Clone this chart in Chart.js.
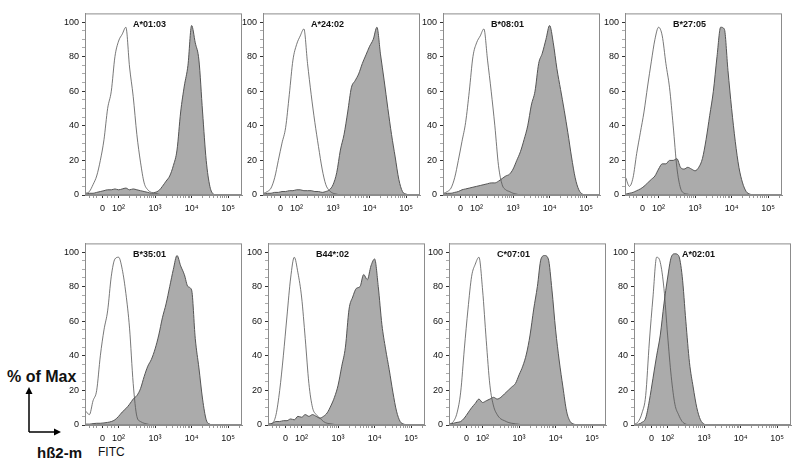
<!DOCTYPE html>
<html lang="en">
<head>
  <meta charset="UTF-8" />
  <title>hB2-m FITC histograms</title>
  <script src="https://cdn.jsdelivr.net/npm/chart.js@4.4.0"></script>
  <style>
    body {
      margin: 0;
      background: #fff;
      width: 799px;
      height: 465px;
      overflow: hidden;
      position: relative;
      font-family: 'Liberation Sans', Arial, sans-serif;
      color: #111;
    }
    canvas { position: absolute; }
    .note { position: absolute; white-space: nowrap; line-height: 1; }
  </style>
</head>
<body>
  <div class="note" style="left:7px; top:369px; font-weight:bold; font-size:16px;">% of Max</div>
  <div class="note" style="left:37px; top:445px; font-weight:bold; font-size:15px;">hß2-m</div>
  <div class="note" style="left:98px; top:446px; font-size:12px;">FITC</div>
  <svg style="position:absolute; left:0; top:380px;" width="70" height="60">
    <line x1="29" y1="52" x2="29" y2="13" stroke="#000" stroke-width="1.5" />
    <polygon points="29,7 25.5,14 32.5,14" fill="#000" />
    <line x1="29" y1="52" x2="55" y2="52" stroke="#000" stroke-width="1.5" />
    <polygon points="61,52 54,48.5 54,55.5" fill="#000" />
  </svg>

  <script>
    // FITC position in decades (2 = 10^2, 3 = 10^3 ...)
    const fitcPos = [1.1, 1.2, 1.3, 1.4, 1.5, 1.6, 1.7, 1.8, 1.9, 2.0,
                     2.1, 2.2, 2.3, 2.4, 2.5, 2.6, 2.7, 2.8, 2.9, 3.0,
                     3.1, 3.2, 3.3, 3.4, 3.5, 3.6, 3.7, 3.8, 3.9, 4.0,
                     4.1, 4.2, 4.3, 4.4, 4.5, 4.6, 4.7, 4.8, 4.9, 5.0,
                     5.1, 5.2, 5.3, 5.4];
    const xTickPos = [1.56, 2, 3, 4, 5];
    const xTickText = ['0', '10²', '10³', '10⁴', '10⁵'];
    const yTickPos = [0, 20, 40, 60, 80, 100];
    const alleles = ['A*01:03', 'A*24:02', 'B*08:01', 'B*27:05', 'B*35:01', 'B44*:02', 'C*07:01', 'A*02:01'];

    // % of max, open histogram (control) and filled histogram (stained)
    const ctrlA0103 = [1, 2, 6, 11, 20, 32, 50, 60, 80, 89, 93, 97, 74, 57, 35, 19, 7, 3, 1.5, 1, 0.5, 0, 0, 0, 0, 0, 0, 0, 0, 0, 0, 0, 0, 0, 0, 0, 0, 0, 0, 0, 0, 0, 0, 0];
    const stainA0103 = [0.5, 1, 1, 1.5, 2, 2.5, 3, 3, 3.5, 3, 3.5, 4, 3, 3.5, 3, 2.5, 2, 1.5, 1, 1.5, 2.5, 5, 8, 11, 17, 26, 48, 63, 75, 98, 88, 78, 48, 20, 5, 0.5, 0, 0, 0, 0, 0, 0, 0, 0];
    const ctrlA2402 = [1, 2, 4, 10, 20, 30, 39, 58, 78, 87, 92, 96, 76, 58, 42, 28, 15, 6, 2.5, 1, 0.5, 0, 0, 0, 0, 0, 0, 0, 0, 0, 0, 0, 0, 0, 0, 0, 0, 0, 0, 0, 0, 0, 0, 0];
    const stainA2402 = [0.5, 1, 1, 1.5, 1.5, 2, 2, 2.5, 2.5, 3, 3, 2.5, 2.5, 2.5, 2, 2, 1.5, 2, 3, 6, 13, 26, 35, 48, 62, 66, 70, 76, 81, 86, 90, 97, 81, 66, 50, 35, 22, 9, 2, 0.5, 0, 0, 0, 0];
    const ctrlB0801 = [1, 2, 4, 10, 20, 31, 42, 60, 80, 88, 92, 96, 78, 60, 40, 17, 6, 3, 2, 1, 0.5, 0, 0, 0, 0, 0, 0, 0, 0, 0, 0, 0, 0, 0, 0, 0, 0, 0, 0, 0, 0, 0, 0, 0];
    const stainB0801 = [0.5, 1, 1, 1.5, 2, 3, 3.5, 4, 4.5, 5, 5.5, 6, 6.5, 7, 7, 8, 9.5, 11, 12, 15, 20, 25, 32, 40, 52, 60, 76, 82, 90, 98, 88, 73, 61, 49, 36, 22, 10, 3, 0.5, 0, 0, 0, 0, 0];
    const ctrlB2705 = [10, 5, 10, 24, 36, 48, 63, 77, 90, 97, 92, 76, 62, 40, 16, 4, 1, 0.5, 0, 0, 0, 0, 0, 0, 0, 0, 0, 0, 0, 0, 0, 0, 0, 0, 0, 0, 0, 0, 0, 0, 0, 0, 0, 0];
    const stainB2705 = [0.5, 1, 1.5, 2.5, 3.5, 5, 7, 9, 11, 15, 18, 18, 20, 20, 21, 16, 15, 16, 15, 14, 16, 21, 32, 46, 60, 80, 97, 96, 72, 50, 31, 16, 7, 2, 0.5, 0, 0, 0, 0, 0, 0, 0, 0, 0];
    const ctrlB3501 = [8, 6, 14, 20, 40, 55, 66, 86, 96, 97, 90, 76, 56, 24, 5, 2, 1, 0.5, 0, 0, 0, 0, 0, 0, 0, 0, 0, 0, 0, 0, 0, 0, 0, 0, 0, 0, 0, 0, 0, 0, 0, 0, 0, 0];
    const stainB3501 = [0.5, 0.5, 0.8, 1, 1, 1.2, 1.5, 2, 3, 5, 7.5, 9.5, 12, 15, 17, 21, 28, 34, 38, 44, 52, 62, 70, 80, 90, 98, 92, 87, 80, 78, 50, 33, 15, 3, 0.5, 0, 0, 0, 0, 0, 0, 0, 0, 0];
    const ctrlB4402 = [0.5, 1, 6, 20, 40, 63, 85, 97, 88, 74, 50, 24, 10, 6, 4, 2, 1, 0.7, 0.3, 0, 0, 0, 0, 0, 0, 0, 0, 0, 0, 0, 0, 0, 0, 0, 0, 0, 0, 0, 0, 0, 0, 0, 0, 0];
    const stainB4402 = [0.5, 1, 2, 2, 2.5, 2.5, 3.5, 3, 5, 4.5, 6, 5, 6, 5, 4, 5, 7, 11, 16, 23, 34, 45, 67, 74, 79, 80, 87, 84, 92, 96, 80, 58, 44, 32, 19, 8, 2, 0.5, 0, 0, 0, 0, 0, 0];
    const ctrlC0701 = [0.5, 2, 7, 19, 44, 67, 86, 93, 97, 78, 49, 23, 11, 6, 3.5, 2.5, 1.5, 1, 0.7, 0.4, 0, 0, 0, 0, 0, 0, 0, 0, 0, 0, 0, 0, 0, 0, 0, 0, 0, 0, 0, 0, 0, 0, 0, 0];
    const stainC0701 = [0.5, 1, 1.5, 2, 4, 7, 10, 12.5, 15, 13, 14, 15, 16, 15, 16, 18, 20, 22, 24, 29, 34, 41, 52, 67, 80, 96, 98, 96, 78, 55, 37, 22, 8, 2, 0.5, 0, 0, 0, 0, 0, 0, 0, 0, 0];
    const ctrlA0201 = [0.5, 2, 7, 17, 48, 74, 97, 94, 79, 52, 28, 12, 6, 2, 0.5, 0, 0, 0, 0, 0, 0, 0, 0, 0, 0, 0, 0, 0, 0, 0, 0, 0, 0, 0, 0, 0, 0, 0, 0, 0, 0, 0, 0, 0];
    const stainA0201 = [0.3, 0.5, 1.5, 4, 14, 27, 40, 52, 70, 85, 97, 99, 98, 86, 60, 36, 22, 10, 3, 0.5, 0, 0, 0, 0, 0, 0, 0, 0, 0, 0, 0, 0, 0, 0, 0, 0, 0, 0, 0, 0, 0, 0, 0, 0];

    const ctrlSets = [ctrlA0103, ctrlA2402, ctrlB0801, ctrlB2705, ctrlB3501, ctrlB4402, ctrlC0701, ctrlA0201];
    const stainSets = [stainA0103, stainA2402, stainB0801, stainB2705, stainB3501, stainB4402, stainC0701, stainA0201];

    // plot box (left, top) of each panel on the page
    const boxAt = [[85, 7], [263, 7], [443, 7], [625, 7], [85, 237], [268, 237], [449, 237], [634, 237]];

    const tickFont = { family: "'Liberation Sans', Arial, sans-serif", size: 9 };

    // minor ticks: a few linear ones round zero, log ones per decade
    const xMinor = [1.2, 1.3, 1.4, 1.7, 1.8, 1.9];
    for (let d = 2; d <= 5; d++) {
      for (let k = 2; k <= 9; k++) {
        const v = d + Math.log10(k);
        if (v < 5.38) xMinor.push(v);
      }
    }
    const yMinor = [];
    for (let v = 5; v < 105; v += 5) if (v % 20) yMinor.push(v);

    const panelFrame = {
      id: 'panelFrame',
      afterDatasetsDraw(chart, args, opts) {
        const { ctx, chartArea: a } = chart;
        ctx.save();
        ctx.strokeStyle = '#8c8c8c';
        ctx.lineWidth = 1;
        ctx.strokeRect(a.left + 0.5, a.top + 0.5, a.right - a.left - 1, a.bottom - a.top - 1);
        ctx.font = "bold 9px 'Liberation Sans', Arial, sans-serif";
        ctx.fillStyle = '#111';
        ctx.textBaseline = 'middle';
        ctx.fillText(opts.label, a.left + 48, a.top + 11);
        ctx.restore();
      }
    };

    function isMajor(list, v) {
      return list.some(t => Math.abs(t - v) < 1e-6);
    }

    alleles.forEach((name, i) => {
      const [bx, by] = boxAt[i];
      const canvas = document.createElement('canvas');
      canvas.width = 191;
      canvas.height = 212;
      canvas.style.left = (bx - 30) + 'px';
      canvas.style.top = (by - 2) + 'px';
      document.body.appendChild(canvas);

      new Chart(canvas.getContext('2d'), {
        type: 'line',
        data: {
          datasets: [
            {
              data: fitcPos.map((x, j) => ({ x, y: ctrlSets[i][j] })),
              borderColor: '#555',
              borderWidth: 0.8,
              fill: false,
              pointRadius: 0,
              cubicInterpolationMode: 'monotone'
            },
            {
              data: fitcPos.map((x, j) => ({ x, y: stainSets[i][j] })),
              borderColor: '#555',
              borderWidth: 1,
              backgroundColor: '#ababab',
              fill: 'origin',
              pointRadius: 0,
              cubicInterpolationMode: 'monotone'
            }
          ]
        },
        options: {
          responsive: false,
          animation: false,
          layout: { padding: { top: 2, right: 4, left: 0, bottom: 0 } },
          plugins: {
            legend: { display: false },
            tooltip: { enabled: false },
            panelFrame: { label: name }
          },
          scales: {
            x: {
              type: 'linear',
              min: 1.08,
              max: 5.38,
              afterFit: s => { s.height = 22; },
              afterBuildTicks: s => {
                s.ticks = xTickPos.concat(xMinor).sort((a, b) => a - b).map(v => ({ value: v }));
              },
              ticks: {
                autoSkip: false,
                maxRotation: 0,
                padding: 5,
                font: tickFont,
                color: '#111',
                callback: v => {
                  const k = xTickPos.findIndex(t => Math.abs(t - v) < 1e-6);
                  return k >= 0 ? xTickText[k] : '';
                }
              },
              grid: {
                drawOnChartArea: false,
                tickLength: 3,
                tickColor: c => (c.tick && isMajor(xTickPos, c.tick.value)) ? '#333' : '#999'
              },
              border: { color: '#8c8c8c' }
            },
            y: {
              min: 0,
              max: 105,
              afterFit: s => { s.width = 30; },
              afterBuildTicks: s => {
                s.ticks = yTickPos.concat(yMinor).sort((a, b) => a - b).map(v => ({ value: v }));
              },
              ticks: {
                autoSkip: false,
                padding: 3,
                font: tickFont,
                color: '#111',
                callback: v => isMajor(yTickPos, v) ? String(v) : ''
              },
              grid: {
                drawOnChartArea: false,
                tickLength: 3,
                tickColor: c => (c.tick && isMajor(yTickPos, c.tick.value)) ? '#333' : '#aaa'
              },
              border: { color: '#8c8c8c' }
            }
          }
        },
        plugins: [panelFrame]
      });
    });
  </script>
</body>
</html>
